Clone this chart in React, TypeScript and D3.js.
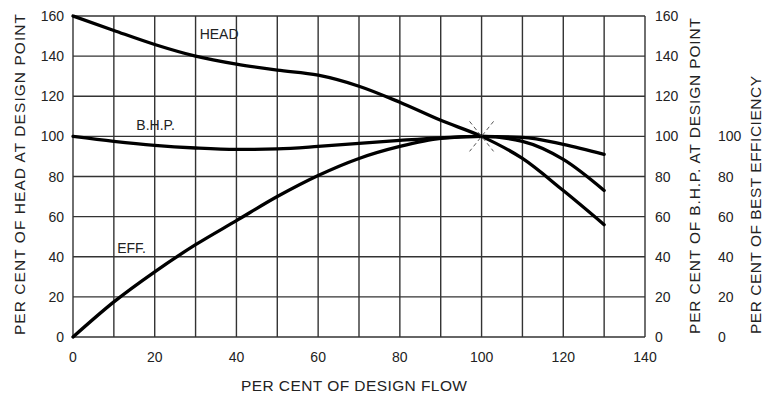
import React from "react";
import * as d3 from "d3";

const flow = [0, 10, 20, 30, 40, 50, 60, 70, 80, 90, 100, 110, 120, 130];
const head = [160, 152.8, 145.8, 140, 136, 133, 130.5, 125, 117, 108, 100, 89, 73, 56];
const bhp = [100, 97.5, 95.5, 94.2, 93.5, 93.8, 95, 96.5, 98, 99.3, 100, 99.5, 96, 91];
const eff = [0, 17.5, 32.5, 46, 58, 70, 80.5, 89, 95, 99, 100, 97.5, 88.5, 73];

const xTicks = [0, 20, 40, 60, 80, 100, 120, 140];
const yTicks = [0, 20, 40, 60, 80, 100, 120, 140, 160];
const effTicks = [0, 20, 40, 60, 80, 100];
const xGrid = d3.range(0, 141, 10);

const curveLabels = [
  { text: "HEAD", x: 31, y: 148.5 },
  { text: "B.H.P.", x: 15.5, y: 103 },
  { text: "EFF.", x: 10.8, y: 42 },
];

const W = 763;
const H = 401;
const FONT = "'Liberation Sans', Arial, Helvetica, sans-serif";

export default function App() {
  const x = d3.scaleLinear().domain([0, 140]).range([73, 645]);
  const y = d3.scaleLinear().domain([0, 160]).range([337, 16]);
  const line = d3
    .line<[number, number]>()
    .x((d) => x(d[0]))
    .y((d) => y(d[1]))
    .curve(d3.curveMonotoneX);
  const series = [head, bhp, eff];
  const grid = "#333";
  const txt = "#222";
  const cx = x(100);
  const cy = y(100);
  return (
    <svg
      width={W}
      height={H}
      style={{ position: "absolute", left: 0, top: 0, background: "#fff" }}
      fontFamily={FONT}
    >
      <rect width={W} height={H} fill="#fff" />
      {xGrid.map((v) => (
        <line key={"vx" + v} x1={x(v)} x2={x(v)} y1={y(160)} y2={y(0)} stroke={grid} strokeWidth={1.4} />
      ))}
      {yTicks.map((v) => (
        <line key={"hy" + v} x1={x(0)} x2={x(140)} y1={y(v)} y2={y(v)} stroke={grid} strokeWidth={1.4} />
      ))}
      {series.map((s, i) => (
        <path
          key={"s" + i}
          d={line(flow.map((f, j) => [f, s[j]]) as [number, number][]) || ""}
          fill="none"
          stroke="#000"
          strokeWidth={3.3}
          strokeLinecap="round"
        />
      ))}
      <g stroke="#555" strokeWidth={1} strokeDasharray="4,3">
        <line x1={cx - 12} y1={cy - 15} x2={cx + 12} y2={cy + 15} />
        <line x1={cx + 12} y1={cy - 15} x2={cx - 12} y2={cy + 15} />
      </g>
      {curveLabels.map((l) => (
        <text key={l.text} x={x(l.x)} y={y(l.y)} fontSize={14} fill={txt}>
          {l.text}
        </text>
      ))}
      {yTicks.map((v) => (
        <text key={"ly" + v} x={64} y={y(v) + 5} fontSize={14} textAnchor="end" fill={txt}>
          {v}
        </text>
      ))}
      {yTicks.map((v) => (
        <text key={"ry" + v} x={655} y={y(v) + 5} fontSize={14} textAnchor="start" fill={txt}>
          {v}
        </text>
      ))}
      {effTicks.map((v) => (
        <text key={"ey" + v} x={718} y={y(v) + 5} fontSize={14} textAnchor="start" fill={txt}>
          {v}
        </text>
      ))}
      {xTicks.map((v) => (
        <text key={"tx" + v} x={x(v)} y={362} fontSize={14} textAnchor="middle" fill={txt}>
          {v}
        </text>
      ))}
      <text x={354} y={391} fontSize={15.5} textAnchor="middle" fill={txt} textLength={226} lengthAdjust="spacing">
        PER CENT OF DESIGN FLOW
      </text>
      <text
        transform={`translate(25,${335}) rotate(-90)`}
        fontSize={15.5}
        fill={txt}
        textLength={321}
        lengthAdjust="spacing"
      >
        PER CENT OF HEAD AT DESIGN POINT
      </text>
      <text
        transform={`translate(700,${334}) rotate(-90)`}
        fontSize={15.5}
        fill={txt}
        textLength={316}
        lengthAdjust="spacing"
      >
        PER CENT OF B.H.P. AT DESIGN POINT
      </text>
      <text
        transform={`translate(761,${334}) rotate(-90)`}
        fontSize={15.5}
        fill={txt}
        textLength={258}
        lengthAdjust="spacing"
      >
        PER CENT OF BEST EFFICIENCY
      </text>
    </svg>
  );
}
